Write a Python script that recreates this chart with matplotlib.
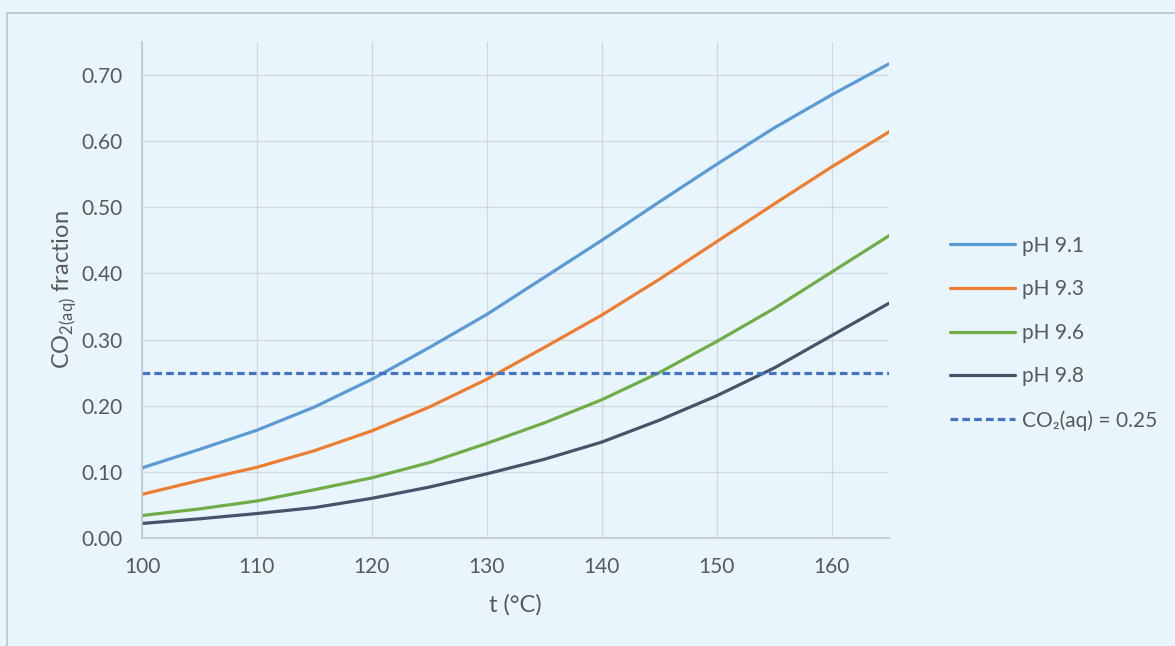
import numpy as np
import matplotlib.pyplot as plt
from matplotlib.patches import Rectangle

# --- data ---
temps = [100, 105, 110, 115, 120, 125, 130, 135, 140, 145, 150, 155, 160, 165]
ph91 = [0.106, 0.134, 0.163, 0.198, 0.240, 0.288, 0.338, 0.394, 0.450, 0.508, 0.565, 0.620, 0.670, 0.717]
ph93 = [0.066, 0.087, 0.107, 0.132, 0.162, 0.198, 0.240, 0.288, 0.337, 0.391, 0.448, 0.505, 0.561, 0.614]
ph96 = [0.034, 0.044, 0.056, 0.073, 0.091, 0.114, 0.143, 0.174, 0.209, 0.250, 0.297, 0.347, 0.402, 0.457]
ph98 = [0.022, 0.029, 0.037, 0.046, 0.060, 0.077, 0.097, 0.119, 0.145, 0.178, 0.215, 0.257, 0.306, 0.355]
threshold = 0.25

series_names = ['pH 9.1', 'pH 9.3', 'pH 9.6', 'pH 9.8']
series_vals = [ph91, ph93, ph96, ph98]
series_colors = ['#5B9BD5', '#ED7D31', '#70AD47', '#44546A']

bg = '#E9F5FD'
grid_c = '#D0D9E0'
text_c = '#595959'

plt.rcParams['font.family'] = ['Lato', 'DejaVu Sans']
plt.rcParams['mathtext.fontset'] = 'custom'
plt.rcParams['mathtext.rm'] = 'Lato'

fig = plt.figure(figsize=(11.75, 6.46), dpi=100, facecolor=bg)
# outer chart border (runs off the right and bottom of the picture)
fig.patches.append(Rectangle((7 / 1175, -0.1), 1.2, 1 - 13 / 646 + 0.1,
                             transform=fig.transFigure, fill=False,
                             edgecolor='#BFCCD6', linewidth=1.5))

ax = fig.add_axes([142 / 1175, 1 - 538 / 646, (889 - 142) / 1175, (538 - 42) / 646])
ax.set_facecolor(bg)

for name, vals, col in zip(series_names, series_vals, series_colors):
    ax.plot(temps, vals, color=col, linewidth=2.3, label=name, solid_capstyle='round')
ax.plot([temps[0], temps[-1]], [threshold, threshold], color='#4472C4', linewidth=2.3,
        linestyle=(0, (2.4, 1.3)), label='CO₂(aq) = 0.25')

ax.set_xlim(100, 165)
ax.set_ylim(0, 0.75)
ax.set_xticks(np.arange(100, 161, 10))
ax.set_yticks(np.arange(0, 0.71, 0.1))
ax.yaxis.set_major_formatter(plt.FuncFormatter(lambda v, p: f'{v:.2f}'))
ax.grid(True, color=grid_c, linewidth=1.0)
ax.set_axisbelow(True)
for s in ['top', 'right']:
    ax.spines[s].set_visible(False)
for s in ['left', 'bottom']:
    ax.spines[s].set_color('#BFC8D0')
    ax.spines[s].set_linewidth(1.2)
ax.tick_params(length=0, labelsize=15, colors=text_c)
ax.tick_params(axis='x', pad=14)
ax.tick_params(axis='y', pad=14)

ax.set_xlabel('t (°C)', fontsize=17, color=text_c, labelpad=12)
ax.set_ylabel(r'CO$_{\mathrm{2(aq)}}$ fraction', fontsize=17, color=text_c, labelpad=2)

leg = ax.legend(loc='center left', bbox_to_anchor=(1.082, 0.413), frameon=False,
                fontsize=15, labelcolor=text_c, handlelength=3.1, handletextpad=0.35,
                labelspacing=1.13, borderaxespad=0, borderpad=0)

fig.savefig('out.png', dpi=100, facecolor=bg)
